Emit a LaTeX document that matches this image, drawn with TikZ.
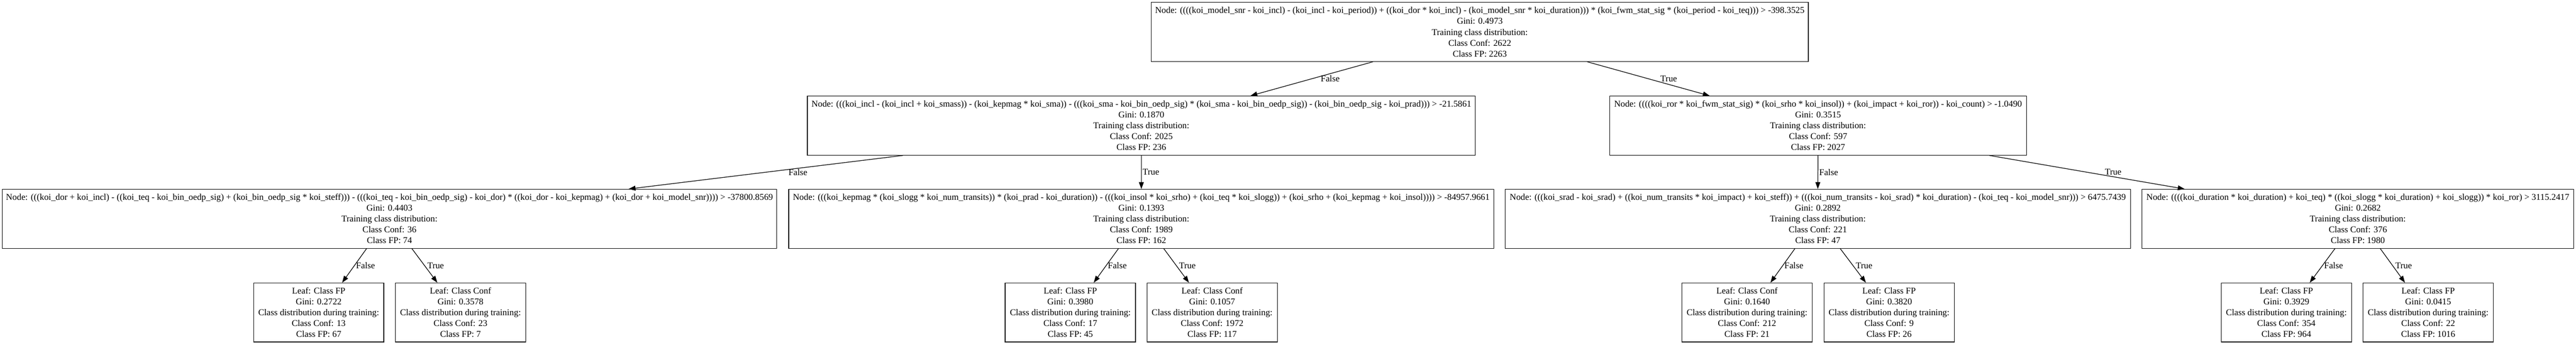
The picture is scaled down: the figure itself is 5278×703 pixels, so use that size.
\documentclass[tikz,border=0pt]{standalone}
\usepackage{fontspec}
\setmainfont{Liberation Serif}
\usetikzlibrary{arrows.meta}
\begin{document}
\begin{tikzpicture}[x=1pt,y=-1pt,
  box/.style={draw=black, line width=1.3pt, rectangle, minimum height=121pt, inner sep=0pt, align=center, font=\fontsize{18.3}{22.2}\selectfont},
  leafbox/.style={box, minimum width=267pt},
  edge/.style={line width=1.3pt, -{Triangle[length=14pt,width=10pt]}},
  lbl/.style={font=\fontsize{18.3}{22}\selectfont, inner sep=0pt, anchor=west}]
\fill[white] (0,0) rectangle (5278,703);
\useasboundingbox (0,0) rectangle (5278,703);

% rank 0
\node[box, minimum width=1346pt] (root) at (3032,65.5) {Node: ((((koi\_model\_snr - koi\_incl) - (koi\_incl - koi\_period)) + ((koi\_dor * koi\_incl) - (koi\_model\_snr * koi\_duration))) * (koi\_fwm\_stat\_sig * (koi\_period - koi\_teq))) > -398.3525\\Gini: 0.4973\\Training class distribution:\\Class Conf: 2622\\Class FP: 2263};

% rank 1
\node[box, minimum width=1369pt] (l1l) at (2338.5,257.5) {Node: (((koi\_incl - (koi\_incl + koi\_smass)) - (koi\_kepmag * koi\_sma)) - (((koi\_sma - koi\_bin\_oedp\_sig) * (koi\_sma - koi\_bin\_oedp\_sig)) - (koi\_bin\_oedp\_sig - koi\_prad))) > -21.5861\\Gini: 0.1870\\Training class distribution:\\Class Conf: 2025\\Class FP: 236};
\node[box, minimum width=854pt] (l1r) at (3725,257.5) {Node: ((((koi\_ror * koi\_fwm\_stat\_sig) * (koi\_srho * koi\_insol)) + (koi\_impact + koi\_ror)) - koi\_count) > -1.0490\\Gini: 0.3515\\Training class distribution:\\Class Conf: 597\\Class FP: 2027};

% rank 2
\node[box, minimum width=1586pt] (ll) at (798,448.5) {Node: (((koi\_dor + koi\_incl) - ((koi\_teq - koi\_bin\_oedp\_sig) + (koi\_bin\_oedp\_sig * koi\_steff))) - (((koi\_teq - koi\_bin\_oedp\_sig) - koi\_dor) * ((koi\_dor - koi\_kepmag) + (koi\_dor + koi\_model\_snr)))) > -37800.8569\\Gini: 0.4403\\Training class distribution:\\Class Conf: 36\\Class FP: 74};
\node[box, minimum width=1445pt] (lr) at (2338.5,448.5) {Node: (((koi\_kepmag * (koi\_slogg * koi\_num\_transits)) * (koi\_prad - koi\_duration)) - (((koi\_insol * koi\_srho) + (koi\_teq * koi\_slogg)) + (koi\_srho + (koi\_kepmag + koi\_insol)))) > -84957.9661\\Gini: 0.1393\\Training class distribution:\\Class Conf: 1989\\Class FP: 162};
\node[box, minimum width=1281pt] (rl) at (3724.5,448.5) {Node: (((koi\_srad - koi\_srad) + ((koi\_num\_transits * koi\_impact) + koi\_steff)) + (((koi\_num\_transits - koi\_srad) * koi\_duration) - (koi\_teq - koi\_model\_snr))) > 6475.7439\\Gini: 0.2892\\Training class distribution:\\Class Conf: 221\\Class FP: 47};
\node[box, minimum width=884pt] (rr) at (4831,448.5) {Node: ((((koi\_duration * koi\_duration) + koi\_teq) * ((koi\_slogg * koi\_duration) + koi\_slogg)) * koi\_ror) > 3115.2417\\Gini: 0.2682\\Training class distribution:\\Class Conf: 376\\Class FP: 1980};

% rank 3 (leaves)
\node[leafbox] (llf) at (653,640.5) {Leaf: Class FP\\Gini: 0.2722\\Class distribution during training:\\Class Conf: 13\\Class FP: 67};
\node[leafbox] (llt) at (943.5,640.5) {Leaf: Class Conf\\Gini: 0.3578\\Class distribution during training:\\Class Conf: 23\\Class FP: 7};
\node[leafbox] (lrf) at (2193,640.5) {Leaf: Class FP\\Gini: 0.3980\\Class distribution during training:\\Class Conf: 17\\Class FP: 45};
\node[leafbox] (lrt) at (2483.5,640.5) {Leaf: Class Conf\\Gini: 0.1057\\Class distribution during training:\\Class Conf: 1972\\Class FP: 117};
\node[leafbox] (rlf) at (3579.5,640.5) {Leaf: Class Conf\\Gini: 0.1640\\Class distribution during training:\\Class Conf: 212\\Class FP: 21};
\node[leafbox] (rlt) at (3870.5,640.5) {Leaf: Class FP\\Gini: 0.3820\\Class distribution during training:\\Class Conf: 9\\Class FP: 26};
\node[leafbox] (rrf) at (4684.5,640.5) {Leaf: Class FP\\Gini: 0.3929\\Class distribution during training:\\Class Conf: 354\\Class FP: 964};
\node[leafbox] (rrt) at (4975,640.5) {Leaf: Class FP\\Gini: 0.0415\\Class distribution during training:\\Class Conf: 22\\Class FP: 1016};

% edges
\draw[edge] ([xshift=-219pt]root.south) -- ([xshift=223.5pt]l1l.north) node[lbl, pos=0.5, xshift=18pt] {False};
\draw[edge] ([xshift=220pt]root.south) -- ([xshift=-222pt]l1r.north) node[lbl, pos=0.5, xshift=24pt] {True};

\draw[edge] ([xshift=-488.5pt]l1l.south) -- ([xshift=490pt]ll.north) node[lbl, pos=0.5, xshift=46pt] {False};
\draw[edge] (l1l.south) -- (lr.north) node[lbl, pos=0.5, xshift=2pt] {True};
\draw[edge] (l1r.south) -- (rl.north) node[lbl, pos=0.5, xshift=2pt] {False};
\draw[edge] ([xshift=351pt]l1r.south) -- ([xshift=-355pt]rr.north) node[lbl, pos=0.5, xshift=36pt] {True};

\draw[edge] ([xshift=-47pt]ll.south) -- ([xshift=48pt]llf.north) node[lbl, pos=0.5, xshift=3pt] {False};
\draw[edge] ([xshift=46pt]ll.south) -- ([xshift=-47.5pt]llt.north) node[lbl, pos=0.5, xshift=5pt] {True};
\draw[edge] ([xshift=-47pt]lr.south) -- ([xshift=48pt]lrf.north) node[lbl, pos=0.5, xshift=3pt] {False};
\draw[edge] ([xshift=46pt]lr.south) -- ([xshift=-47.5pt]lrt.north) node[lbl, pos=0.5, xshift=5pt] {True};
\draw[edge] ([xshift=-47pt]rl.south) -- ([xshift=48pt]rlf.north) node[lbl, pos=0.5, xshift=3pt] {False};
\draw[edge] ([xshift=46pt]rl.south) -- ([xshift=-47.5pt]rlt.north) node[lbl, pos=0.5, xshift=5pt] {True};
\draw[edge] ([xshift=-47pt]rr.south) -- ([xshift=48pt]rrf.north) node[lbl, pos=0.5, xshift=3pt] {False};
\draw[edge] ([xshift=46pt]rr.south) -- ([xshift=-47.5pt]rrt.north) node[lbl, pos=0.5, xshift=5pt] {True};
\end{tikzpicture}
\end{document}
